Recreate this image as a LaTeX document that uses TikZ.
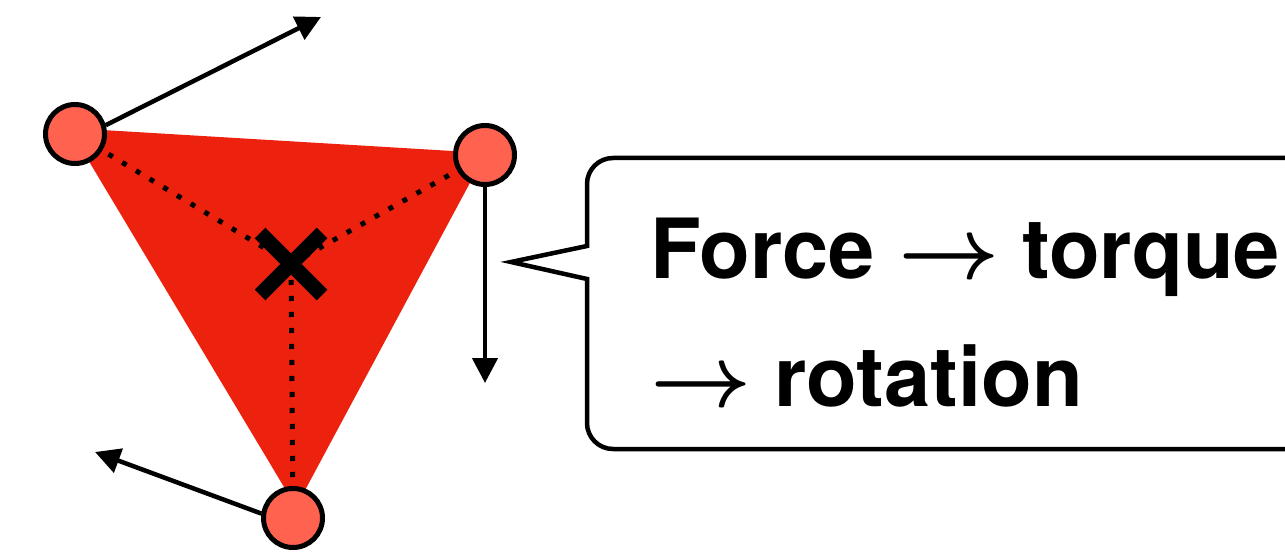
\documentclass[tikz,border=0pt]{standalone}
\usepackage{graphicx}
\usepackage{fontspec}
\setmainfont{TeX Gyre Heros}
\usetikzlibrary{arrows.meta,calc}
\definecolor{trired}{RGB}{236,34,14}
\definecolor{dotfill}{RGB}{255,99,80}
\newcommand{\bigarrow}{\scalebox{8.8}{\fontsize{10}{12}\selectfont\boldmath$\rightarrow$}}
\tikzset{
  vertexdot/.style={circle, draw=black, fill=dotfill, line width=5pt, minimum size=59pt, inner sep=0pt},
  forcearrow/.style={line width=4.5pt, -{Triangle[length=25pt,width=25pt]}},
  radial/.style={line width=5pt, dash pattern=on 5pt off 11pt},
  crossmark/.style={line width=15pt},
  callout/.style={line width=4.5pt, draw=black, fill=white},
  labeltext/.style={inner sep=0pt, anchor=base west, font=\fontsize{83}{100}\selectfont\bfseries}
}
\begin{document}
\begin{tikzpicture}[x=1pt,y=-1pt]
\useasboundingbox (0,0) rectangle (1285,553);
\clip (0,0) rectangle (1285,553);
% triangle
\fill[trired] (69,128) -- (486,153) -- (296,507) -- cycle;
\coordinate (G) at (291,264);
\coordinate (Apos) at (75,134);
\coordinate (Bpos) at (485,155);
\coordinate (Cpos) at (293,518);
% dotted radial lines
\draw[radial] (G) -- (Apos);
\draw[radial] (G) -- (Bpos);
\draw[radial] (G) -- (Cpos);
% centre cross
\draw[crossmark] ($(G)+(-31,-31)$) -- ($(G)+(31,31)$);
\draw[crossmark] ($(G)+(-31,31)$) -- ($(G)+(31,-31)$);
% vertices
\node[vertexdot] (A) at (Apos) {};
\node[vertexdot] (B) at (Bpos) {};
\node[vertexdot] (C) at (Cpos) {};
% force arrows
\coordinate (ta) at (321,17);
\coordinate (tb) at (485,383);
\coordinate (tc) at (95,452);
\draw[forcearrow] (A.16) -- (ta);
\draw[forcearrow] (B.south) -- (tb);
\draw[forcearrow] (C.172) -- (tc);
% callout
\draw[callout] (1300,158) -- (613,158) arc[start angle=270, end angle=180, radius=26]
  -- (587,246) -- (511,262) -- (587,279) -- (587,423)
  arc[start angle=180, end angle=90, radius=26] -- (1300,449);
\node[labeltext] (line1) at (650,279) {Force~\bigarrow~torque};
\node[labeltext] (line2) at (650,406) {\bigarrow~rotation};
\end{tikzpicture}
\end{document}
